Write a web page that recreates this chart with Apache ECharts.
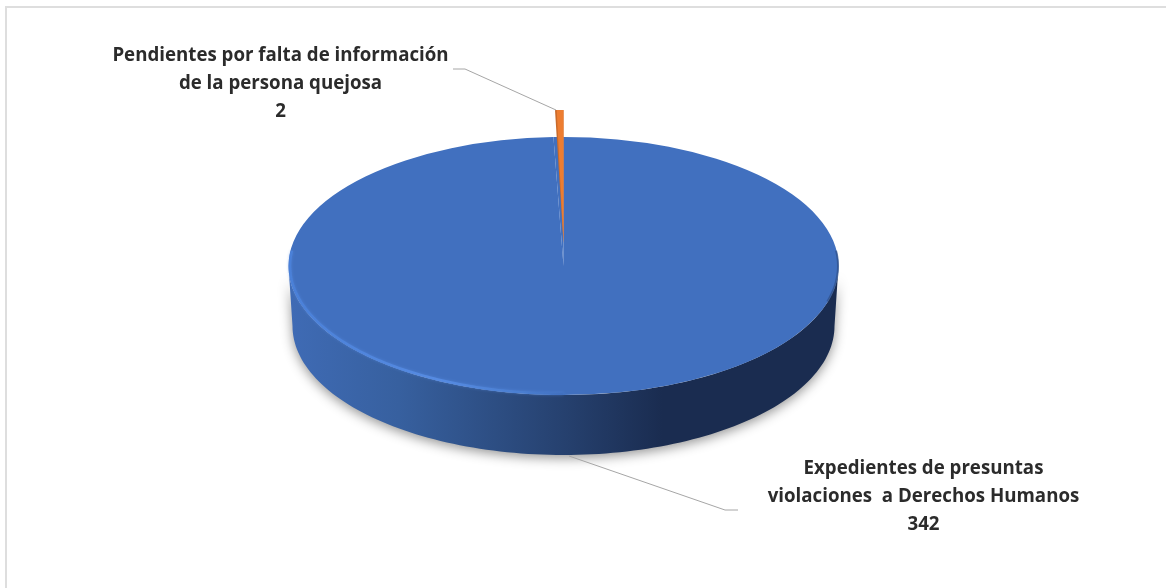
<!DOCTYPE html>
<html><head><meta charset="utf-8">
<style>html,body{margin:0;padding:0;background:#fff}#c{width:1166px;height:588px}</style>
<script src="https://cdn.jsdelivr.net/npm/echarts@6/dist/echarts.min.js"></script>
</head><body><div id="c"></div>
<script>
const categories = ['Expedientes de presuntas\nviolaciones  a Derechos Humanos', 'Pendientes por falta de información\nde la persona quejosa'];
const values = [342, 2];

const CX = 563.5, CY = 266, RX = 275, RY = 129, DEPTH = 60, RXB = 271;
const total = values.reduce((a, b) => a + b, 0);
const FONT = '"Open Sans"';
const labelPos = [[280.5, 56], [280.5, 56]];
labelPos[0] = [923.5, 469];
const leaders = [
  [[569, 456], [725, 510], [738, 510]],
  [[556, 110], [465, 69], [453, 69]]
];
function grad(x0, x1, stops) {
  return {type: 'linear', x: x0, y: 0, x2: x1, y2: 0, global: true,
    colorStops: stops.map(s => ({offset: s[0], color: s[1]}))};
}
function arc(cx, cy, rx, ry, a0, a1, n) {
  const p = [];
  for (let i = 0; i <= n; i++) {
    const a = a0 + (a1 - a0) * i / n;
    p.push([cx + rx * Math.cos(a), cy + ry * Math.sin(a)]);
  }
  return p;
}
function renderItem(params, api) {
  const i = params.dataIndex;
  let before = 0;
  for (let k = 0; k < i; k++) before += values[k];
  const v = api.value(0);
  const a0 = -Math.PI / 2 + before / total * 2 * Math.PI;
  const a1 = a0 + v / total * 2 * Math.PI;
  const children = [];
  const lines = (categories[i] + '\n' + v);
  if (i === 0) {
    const front = arc(CX, CY, RX, RY, 0, Math.PI, 120);
    const back = arc(CX, CY + DEPTH, RXB, RY, Math.PI, 0, 120);
    children.push({type: 'polygon', shape: {points: front.concat(back)},
      style: {fill: grad(CX - RX, CX + RX, [[0, '#3f6bb5'], [.2, '#37609f'], [.5, '#26416f'], [.68, '#1a2c50'], [1, '#1a2c50']]),
        shadowBlur: 12, shadowColor: 'rgba(0,0,0,.42)', shadowOffsetY: 3}});
    children.push({type: 'group', x: CX, y: CY, scaleY: RY / RX, children: [
      {type: 'sector', shape: {cx: 0, cy: 0, r0: 0, r: RX, startAngle: a0, endAngle: a1, clockwise: true},
        style: {fill: '#4170bf'}}
    ]});
    children.push({type: 'polyline', shape: {points: arc(CX, CY, RX - 1.5, RY - 1.2, Math.PI / 2, Math.PI + 0.12, 120)},
      style: {fill: 'none', lineWidth: 2.5, shadowBlur: 3, shadowColor: 'rgba(90,144,232,.5)',
        stroke: grad(CX - RX, CX, [[0, '#4a80d8'], [.55, '#568be2'], [.85, '#4a7ed0'], [1, '#4170bf']])}});
    children.push({type: 'polyline', shape: {points: arc(CX, CY, RX - .5, RY - .5, 0.28, -0.12, 40)},
      style: {fill: 'none', lineWidth: 2, stroke: 'rgba(45,78,135,.7)'}});
  } else {
    const gy0 = 110, gy1 = 243;
    const vert = (s) => ({type: 'linear', x: 0, y: gy0, x2: 0, y2: gy1, global: true,
      colorStops: s.map(q => ({offset: q[0], color: q[1]}))});
    const k = 133 / 233;
    children.push({type: 'group', x: CX, y: CY, scaleY: RY / RX, children: [
      {type: 'sector', shape: {cx: 0, cy: 0, r0: 0, r: RX, startAngle: a0, endAngle: a1, clockwise: true},
        style: {fill: '#4170bf'}}
    ]});
    children.push({type: 'group', x: CX, y: gy1, scaleY: k, children: [
      {type: 'sector', shape: {cx: 0, cy: 0, r0: 0, r: 233, startAngle: a0, endAngle: a1, clockwise: true},
        style: {fill: vert([[0, '#c96a2a'], [.2, '#7a4a28'], [.7, '#4f4740'], [1, 'rgba(130,170,230,.5)']])}},
      {type: 'sector', shape: {cx: 0, cy: 0, r0: 0, r: 233, startAngle: a0 + (a1 - a0) * .2, endAngle: a1, clockwise: true},
        style: {fill: vert([[0, '#ed7d31'], [.6, '#ed7d31'], [.85, 'rgba(180,110,60,.8)'], [1, 'rgba(130,170,230,.3)']])}}
    ]});
  }
  children.push({type: 'polyline', shape: {points: leaders[i]},
    style: {fill: 'none', stroke: '#a6a6a6', lineWidth: 1}});
  children.push({type: 'text', x: labelPos[i][0], y: labelPos[i][1] - 14,
    style: {text: lines, fill: '#2b2b2b', font: '700 18.7px ' + FONT, lineHeight: 28, align: 'center', verticalAlign: 'top'}});
  return {type: 'group', children};
}
const chart = echarts.init(document.getElementById('c'), null, {renderer: 'canvas'});
chart.setOption({
  animation: false,
  backgroundColor: '#fff',
  graphic: [
    {type: 'polyline', shape: {points: [[6, 588], [6, 7], [1166, 7]]}, z: -1,
      style: {fill: 'none', stroke: '#dedede', lineWidth: 2}}
  ],
  series: [{type: 'custom', coordinateSystem: 'none', renderItem,
    data: values.map((v, i) => ({value: [v], name: categories[i]}))}]
});
</script></body></html>
